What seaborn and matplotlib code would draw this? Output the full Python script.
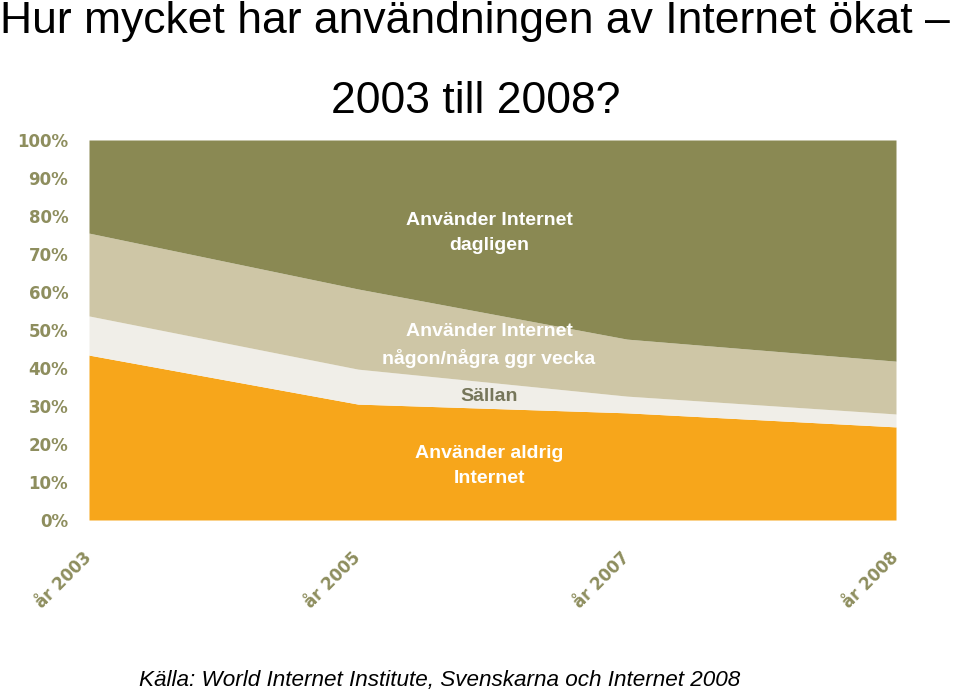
import matplotlib
matplotlib.use("Agg")
import matplotlib.pyplot as plt
import seaborn as sns
import numpy as np

# data (andel av befolkningen, %)
years = ["år 2003", "år 2005", "år 2007", "år 2008"]
aldrig = [43.4, 30.5, 28.2, 24.5]
sallan = [10.3, 9.2, 4.4, 3.4]
vecka = [21.8, 21.1, 15.0, 13.9]
dagligen = [24.5, 39.2, 52.4, 58.2]

colors = ["#F7A61B", "#F0EEE8", "#CEC6A6", "#8A8953"]
tick_color = "#8E8E5E"

sns.set_style("white")
plt.rcParams["font.family"] = ["Liberation Sans", "DejaVu Sans"]

fig = plt.figure(figsize=(9.6, 6.92), dpi=100)
ax = fig.add_axes([89 / 960, 1 - 520 / 692, 807 / 960, 380 / 692])

x = np.arange(len(years))
ax.stackplot(x, aldrig, sallan, vecka, dagligen, colors=colors, linewidth=0)
sns.despine(ax=ax, left=True, bottom=True)

ax.set_xlim(0, len(years) - 1)
ax.set_ylim(0, 100)
ax.set_yticks(range(0, 101, 10))
ax.set_yticklabels([f"{v}%" for v in range(0, 101, 10)],
                   fontsize=12, fontweight="bold", color=tick_color,
                   family="DejaVu Sans")
ax.tick_params(axis="y", length=0, pad=15)
ax.set_xticks(x)
ax.set_xticklabels(years, rotation=45, ha="right", va="center",
                   rotation_mode="anchor", fontsize=12, fontweight="bold",
                   color=tick_color, family="DejaVu Sans")
ax.tick_params(axis="x", length=0, pad=25)

# etiketter i ytorna
lab_font = ["Liberation Sans Narrow", "Liberation Sans", "DejaVu Sans"]
xc = 1.487
ax.text(xc, 75.5, "Använder Internet\ndagligen", ha="center", va="center",
        color="white", fontsize=14, fontweight="bold", family=lab_font, linespacing=1.6)
ax.text(xc, 46.0, "Använder Internet\nnågon/några ggr vecka", ha="center", va="center",
        color="white", fontsize=14, fontweight="bold", family=lab_font, linespacing=1.6)
ax.text(xc, 32.6, "Sällan", ha="center", va="center",
        color="#76765A", fontsize=14, fontweight="bold", family=lab_font)
ax.text(xc, 14.2, "Använder aldrig\nInternet", ha="center", va="center",
        color="white", fontsize=14, fontweight="bold", family=lab_font, linespacing=1.6)

# rubrik och källa
fig.text(0, 1 - 33 / 692, "Hur mycket har användningen av Internet ökat –",
         ha="left", va="baseline", fontsize=32, color="black")
fig.text(476 / 960, 1 - 113 / 692, "2003 till 2008?",
         ha="center", va="baseline", fontsize=32, color="black")
fig.text(440 / 960, 1 - 686 / 692,
         "Källa: World Internet Institute, Svenskarna och Internet 2008",
         ha="center", va="baseline", fontsize=16.2, style="italic", color="black")

fig.savefig("out.png", dpi=100)
